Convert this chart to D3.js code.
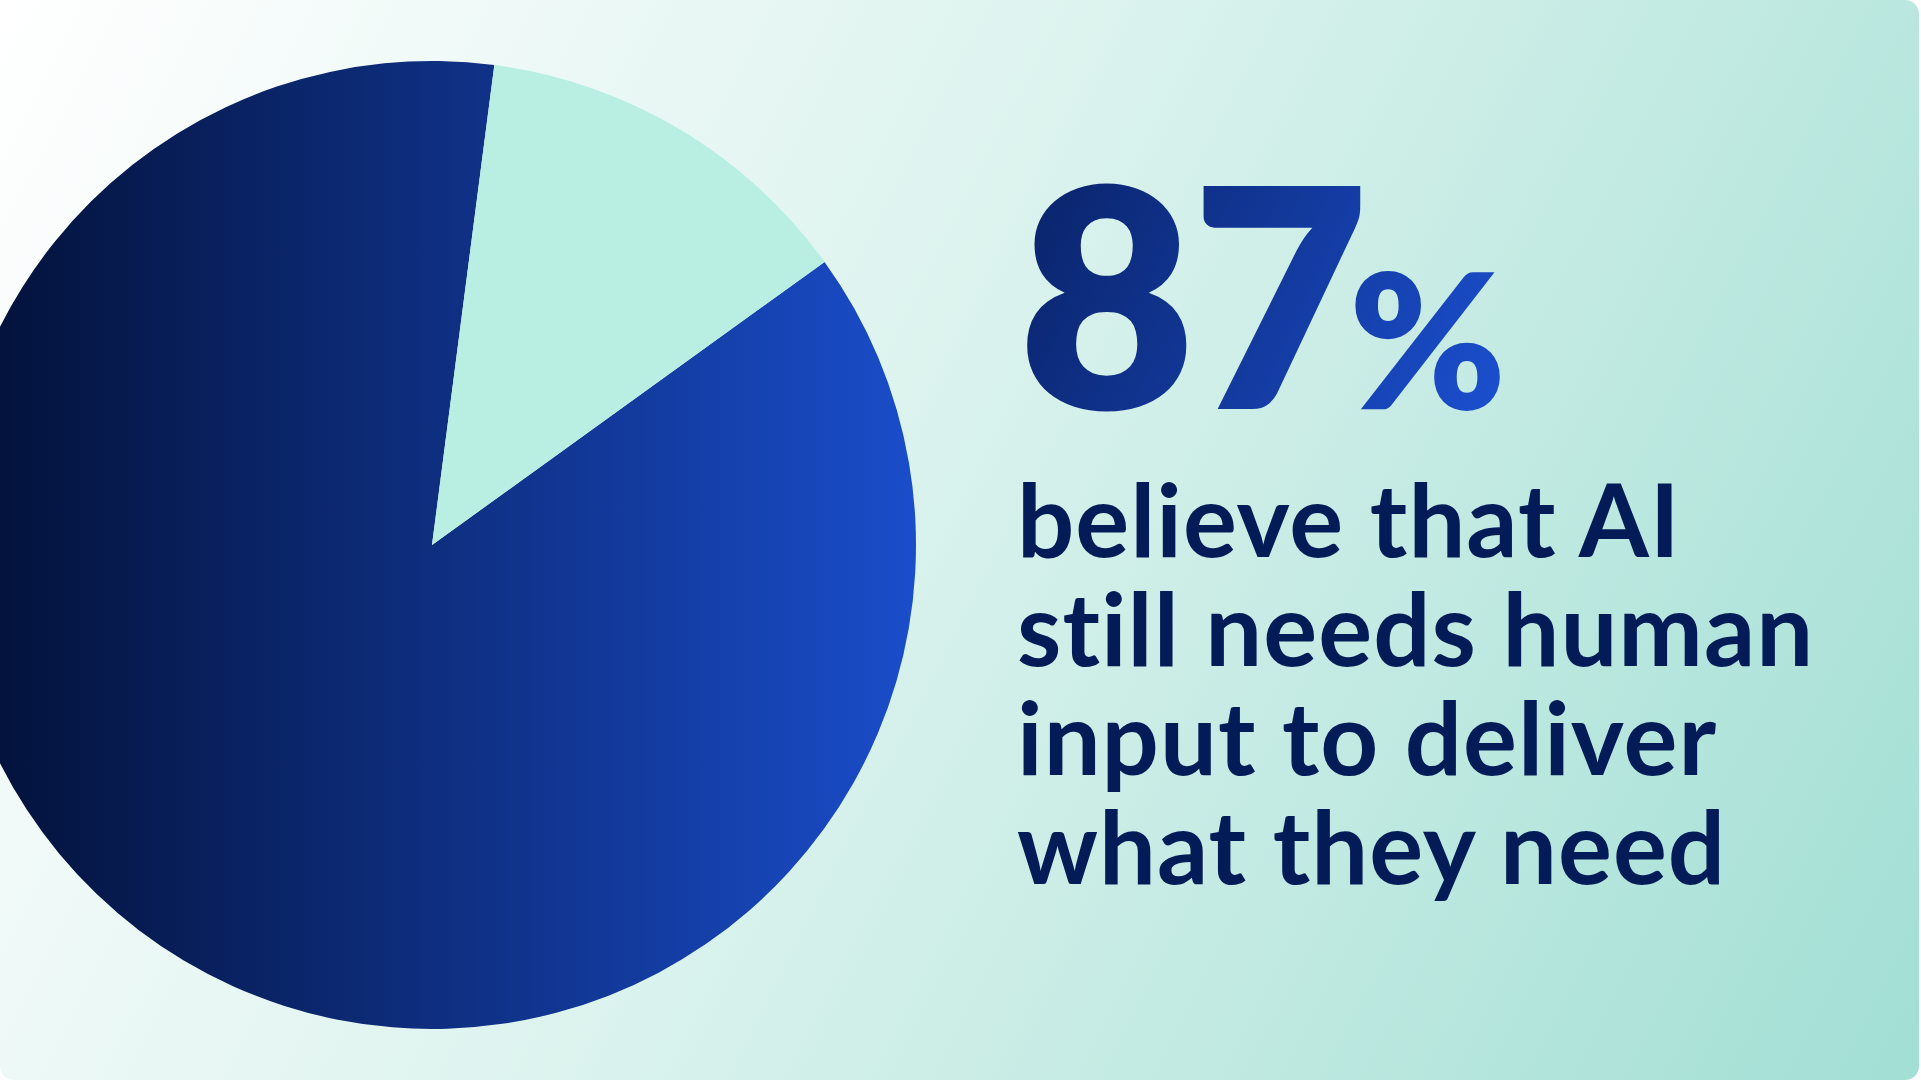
<!DOCTYPE html>
<html>
<head>
<meta charset="utf-8">
<script src="https://cdn.jsdelivr.net/npm/d3@7"></script>
<style>
  html, body { margin: 0; padding: 0; background: #ffffff; overflow: hidden; }
  svg { display: block; }
  text { font-variant-ligatures: none; font-feature-settings: "liga" 0, "clig" 0; }
</style>
</head>
<body>
<svg id="chart" width="1921" height="1081"></svg>
<script>
// ---- data ----
const categories = ["Believe AI still needs human input", "Other"];
const values = [87, 13];
const headlineValue = "87";
const headlineUnit = "%";
const statementLines = ["believe that AI", "still needs human", "input to deliver", "what they need"];

// ---- layout ----
const W = 1921, H = 1081;
const svg = d3.select("#chart");
const defs = svg.append("defs");

// card background gradient
const bg = defs.append("linearGradient").attr("id", "bgGrad")
  .attr("gradientUnits", "userSpaceOnUse")
  .attr("x1", 0).attr("y1", 0).attr("x2", 1950).attr("y2", 1000);
bg.append("stop").attr("offset", 0).attr("stop-color", "#ffffff");
bg.append("stop").attr("offset", 0.45).attr("stop-color", "#dcf3ee");
bg.append("stop").attr("offset", 1).attr("stop-color", "#a2dfd4");

// dark slice gradient
const cx = 432, cy = 545, R = 484;
const pg = defs.append("linearGradient").attr("id", "pieGrad")
  .attr("gradientUnits", "userSpaceOnUse")
  .attr("x1", -53 - cx).attr("y1", 0).attr("x2", 916 - cx).attr("y2", 0);
pg.append("stop").attr("offset", 0).attr("stop-color", "#020f34");
pg.append("stop").attr("offset", 1).attr("stop-color", "#1a4dca");

// headline gradient
const hg = defs.append("linearGradient").attr("id", "headGrad")
  .attr("gradientUnits", "userSpaceOnUse")
  .attr("x1", 1030).attr("y1", 190).attr("x2", 1500).attr("y2", 410);
hg.append("stop").attr("offset", 0).attr("stop-color", "#0a246b");
hg.append("stop").attr("offset", 1).attr("stop-color", "#1b4fcf");

defs.append("clipPath").attr("id", "cardClip")
  .append("rect").attr("x", 0).attr("y", 0).attr("width", 1919).attr("height", 1080).attr("rx", 14);

svg.append("rect").attr("x", 0).attr("y", 0).attr("width", 1919).attr("height", 1080)
  .attr("rx", 14).attr("fill", "url(#bgGrad)");

// ---- pie ----
const start = 54.2 * Math.PI / 180;
const pie = d3.pie().sort(null).startAngle(start).endAngle(start + 2 * Math.PI);
const arc = d3.arc().innerRadius(0).outerRadius(R);
const color = d3.scaleOrdinal().domain(categories).range(["url(#pieGrad)", "#b9eee2"]);

const pieG = svg.append("g").attr("clip-path", "url(#cardClip)")
  .append("g").attr("transform", `translate(${cx},${cy})`);
pieG.selectAll("path").data(pie(values)).join("path")
  .attr("d", arc)
  .attr("fill", (d, i) => color(categories[i]));

// ---- headline ----
const head = svg.append("text")
  .attr("x", 1018).attr("y", 409)
  .attr("fill", "url(#headGrad)")
  .style("font-family", "Lato, 'Noto Sans', sans-serif")
  .style("font-weight", 800)
  .style("font-size", "306px");
head.append("tspan").text(headlineValue).style("letter-spacing", "-4px");
head.append("tspan").text(headlineUnit).style("font-size", "188px").attr("dx", -16);

// ---- statement ----
const lineY = d3.scalePoint().domain(d3.range(statementLines.length)).range([557, 884]);
svg.append("g").selectAll("text").data(statementLines).join("text")
  .attr("x", 1017)
  .attr("y", (d, i) => lineY(i))
  .attr("fill", "#031b57")
  .style("font-family", "Lato, 'Noto Sans', sans-serif")
  .style("font-weight", 700)
  .style("font-size", "101px")
  .style("letter-spacing", "1px")
  .text(d => d);
</script>
</body>
</html>
